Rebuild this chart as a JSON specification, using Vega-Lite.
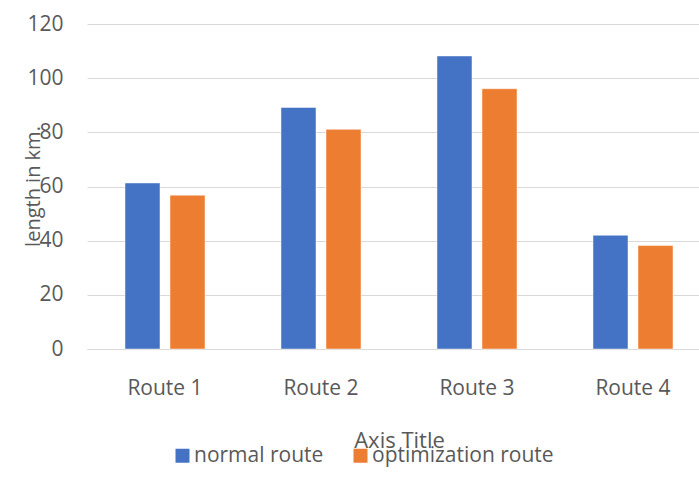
{
  "$schema": "https://vega.github.io/schema/vega-lite/v6.json",
  "width": 624,
  "height": 325,
  "autosize": {"type": "none"},
  "padding": {"left": 87, "top": 24, "right": 0, "bottom": 142},
  "background": "white",
  "config": {
    "font": "Open Sans",
    "view": {"stroke": null},
    "axis": {"labelColor": "#595959", "titleColor": "#595959", "titleFontWeight": "normal", "gridColor": "#D9D9D9", "domainColor": "#D9D9D9", "ticks": false}
  },
  "data": {
    "values": [
      {"route": "Route 1", "series": "normal route", "length": 61.3},
      {"route": "Route 1", "series": "optimization route", "length": 56.8},
      {"route": "Route 2", "series": "normal route", "length": 89.2},
      {"route": "Route 2", "series": "optimization route", "length": 81.1},
      {"route": "Route 3", "series": "normal route", "length": 108.2},
      {"route": "Route 3", "series": "optimization route", "length": 96.1},
      {"route": "Route 4", "series": "normal route", "length": 42.0},
      {"route": "Route 4", "series": "optimization route", "length": 38.2}
    ]
  },
  "mark": {"type": "bar", "stroke": "white", "strokeWidth": 0.8, "strokeOpacity": 0.6},
  "encoding": {
    "x": {
      "field": "route", "type": "nominal", "sort": null,
      "scale": {"paddingInner": 0.487, "paddingOuter": 0.2435},
      "axis": {"title": "Axis Title", "labelAngle": 0, "labelFontSize": 21, "labelPadding": 28, "titleFontSize": 22, "titleY": 98, "titleBaseline": "alphabetic", "grid": false, "domain": true}
    },
    "xOffset": {"field": "series", "type": "nominal", "scale": {"paddingInner": 0.222, "paddingOuter": 0}},
    "y": {
      "field": "length", "type": "quantitative",
      "scale": {"domain": [0, 120], "nice": false},
      "axis": {"title": "length in km.", "values": [0, 20, 40, 60, 80, 100, 120], "labelFontSize": 21, "labelPadding": 24, "domain": false, "titleFontSize": 20, "titleAngle": -90, "titleX": -54, "titleY": 162, "titleAlign": "center", "titleBaseline": "middle"}
    },
    "color": {
      "field": "series", "type": "nominal",
      "scale": {"domain": ["normal route", "optimization route"], "range": ["#4472C4", "#ED7D31"]},
      "legend": {"title": null, "orient": "none", "direction": "horizontal", "legendX": 85, "legendY": 421, "symbolType": "square", "symbolSize": 196, "symbolStrokeWidth": 0, "labelFontSize": 21, "labelColor": "#595959", "labelOffset": 1, "labelLimit": 400, "columnPadding": 26}
    }
  }
}
